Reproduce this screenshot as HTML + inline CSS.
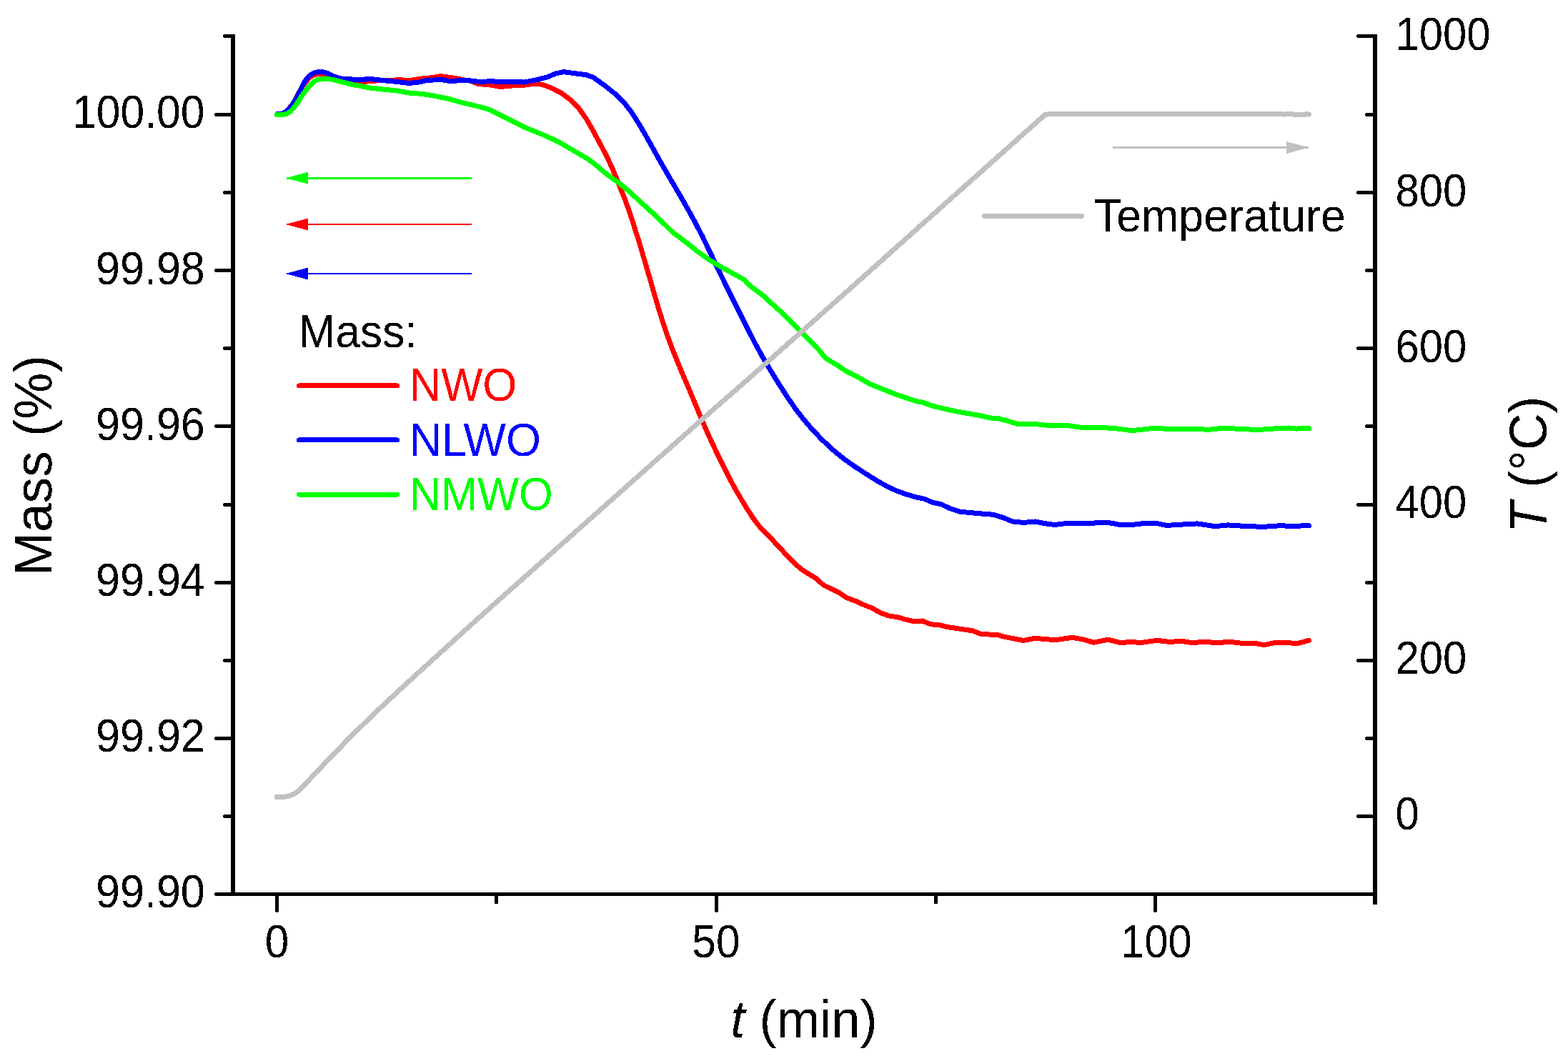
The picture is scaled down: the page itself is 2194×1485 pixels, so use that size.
<!DOCTYPE html>
<html lang="en">
<head>
<meta charset="utf-8">
<title>TGA mass and temperature versus time</title>
<style>
html,body{margin:0;padding:0;background:#fff;}
body{width:2194px;height:1485px;overflow:hidden;}
svg{display:block;}
text{font-family:"Liberation Sans",Arial,Helvetica,sans-serif;fill:#000;}
</style>
</head>
<body>
<svg width="2194" height="1485" viewBox="0 0 2194 1485">
<defs>
<filter id="crisp" filterUnits="userSpaceOnUse" x="0" y="0" width="2194" height="1485" color-interpolation-filters="sRGB">
<feComponentTransfer><feFuncA type="discrete" tableValues="0 1"/></feComponentTransfer>
</filter>
</defs>
<rect x="0" y="0" width="2194" height="1485" fill="#ffffff"/>

<g fill="none" stroke-linejoin="round" stroke-linecap="round" stroke-width="7" shape-rendering="crispEdges">
<path d="M387.5,159.7 L394.5,159.0 L399.5,156.5 L403.6,152.8 L410.4,144.5 L417.2,131.5 L424.2,119.5 L428.3,114.0 L432.6,109.3 L437.0,106.0 L442.0,104.0 L447.0,103.2 L453.0,103.3 L459.0,104.8 L466.0,107.5 L473.0,110.0 L480.0,111.8 L493.0,113.5 L509.0,114.4 L527.3,113.0 L541.0,112.6 L559.3,111.7 L572.9,112.6 L591.2,109.9 L604.8,108.7 L616.7,106.5 L627.6,108.1 L641.3,110.3 L650.4,112.2 L659.5,113.4 L668.6,117.5 L682.3,118.5 L691.4,119.8 L700.0,121.5 L720.0,119.6 L730.0,119.6 L745.0,117.6 L758.4,118.1 L772.7,123.6 L786.1,130.7 L798.3,139.8 L809.6,151.2 L820.1,166.0 L830.2,183.6 L840.0,201.8 L849.0,218.9 L856.6,235.2 L863.1,250.8 L869.0,265.4 L874.9,280.1 L880.8,297.0 L887.4,317.1 L894.6,339.8 L901.6,363.4 L908.4,386.8 L915.1,410.1 L921.8,432.8 L928.5,453.9 L935.2,473.6 L942.1,491.9 L948.8,508.5 L955.6,524.6 L963.7,543.6 L972.9,565.7 L982.3,588.3 L991.9,610.1 L1001.8,631.3 L1011.7,651.6 L1021.3,670.6 L1030.6,687.7 L1039.6,702.8 L1047.7,715.9 L1054.7,726.6 L1061.9,735.9 L1070.9,745.6 L1081.1,756.0 L1091.1,766.5 L1100.6,777.1 L1110.7,787.6 L1121.2,796.6 L1131.7,803.5 L1141.8,809.4 L1151.8,818.6 L1163.5,824.4 L1175.2,830.2 L1185.2,836.9 L1196.9,841.1 L1208.6,846.6 L1220.3,851.1 L1232.0,857.8 L1243.7,862.0 L1255.4,863.6 L1267.0,867.0 L1277.1,869.5 L1290.4,869.0 L1302.1,873.7 L1315.5,875.0 L1327.2,877.8 L1343.9,880.3 L1360.6,882.8 L1373.9,887.8 L1394.0,888.2 L1407.3,891.7 L1416.7,893.5 L1431.7,896.5 L1448.4,893.2 L1463.4,894.8 L1478.5,895.5 L1500.2,892.3 L1516.9,895.2 L1530.2,899.3 L1550.3,895.2 L1568.6,899.7 L1583.7,898.2 L1595.4,899.7 L1618.7,896.3 L1637.1,898.5 L1652.1,897.2 L1668.8,899.7 L1683.9,898.2 L1703.9,899.7 L1720.6,898.2 L1739.0,900.5 L1755.6,900.2 L1768.6,902.7 L1785.3,899.3 L1802.0,899.3 L1813.7,901.0 L1825.4,898.0 L1831.5,896.3" stroke="#ff0000"/>
<path d="M387.5,159.7 L395.0,159.0 L400.0,156.5 L404.1,152.8 L410.9,144.5 L417.5,131.5 L423.9,118.7 L427.5,112.6 L431.6,107.3 L435.4,104.0 L440.5,101.5 L445.7,100.5 L451.0,100.6 L456.2,101.8 L464.1,105.5 L470.8,108.2 L477.7,110.2 L491.2,110.8 L500.0,111.7 L518.2,110.5 L536.5,112.6 L554.7,114.4 L572.9,116.5 L586.6,114.9 L595.7,112.6 L616.7,111.4 L627.6,113.3 L655.0,112.6 L673.2,114.7 L686.9,113.5 L700.0,114.9 L720.0,114.3 L733.4,115.1 L750.0,111.8 L766.8,107.6 L776.8,103.1 L788.5,100.6 L803.5,102.6 L820.2,104.7 L830.2,108.4 L846.1,119.7 L860.5,131.2 L872.8,143.1 L883.5,156.8 L893.6,172.6 L903.7,189.9 L913.7,207.8 L923.7,225.7 L933.7,243.1 L943.7,260.3 L953.8,277.5 L963.7,295.0 L973.5,312.9 L983.0,331.2 L991.8,349.5 L1000.4,367.4 L1009.2,385.9 L1018.7,405.3 L1028.6,425.2 L1038.6,445.1 L1048.2,464.2 L1057.5,482.3 L1067.3,500.2 L1078.2,518.5 L1089.8,537.4 L1101.4,555.3 L1112.5,571.5 L1123.9,586.3 L1136.1,600.6 L1149.6,614.8 L1164.5,628.9 L1180.6,642.1 L1197.0,653.7 L1212.6,663.8 L1227.0,672.8 L1240.8,680.6 L1254.7,687.0 L1268.3,691.9 L1281.0,695.6 L1293.4,698.3 L1305.0,703.3 L1316.7,705.7 L1330.1,712.0 L1343.5,716.2 L1356.8,717.5 L1373.5,719.0 L1390.2,720.3 L1403.6,724.5 L1416.9,730.0 L1430.3,731.2 L1440.3,730.9 L1448.6,730.0 L1460.3,732.4 L1475.4,734.5 L1488.7,732.9 L1505.4,732.4 L1527.1,732.4 L1540.5,731.2 L1553.8,732.0 L1567.2,734.5 L1583.9,734.5 L1597.2,732.9 L1620.6,732.9 L1632.3,735.4 L1646.7,734.5 L1675.0,732.9 L1700.0,736.7 L1718.5,734.9 L1738.5,736.2 L1766.9,737.4 L1788.6,735.9 L1813.7,736.2 L1831.5,735.7" stroke="#0000ff"/>
<path d="M387.5,160.5 L395.2,160.4 L401.6,159.2 L406.1,156.0 L410.5,151.5 L414.4,146.4 L418.2,140.7 L422.1,134.3 L426.5,128.5 L431.0,122.7 L435.5,117.6 L440.0,113.8 L445.1,111.2 L452.8,110.4 L460.5,110.6 L468.1,111.9 L475.8,114.1 L484.8,116.3 L494.4,118.9 L500.0,119.5 L518.2,123.1 L536.5,125.1 L554.7,126.9 L572.9,130.1 L591.2,131.5 L609.4,134.5 L627.6,138.3 L645.9,143.5 L664.1,147.7 L682.3,152.5 L691.4,156.6 L701.9,162.0 L716.4,169.2 L732.0,177.1 L744.6,182.5 L756.3,187.1 L769.7,193.0 L783.4,199.6 L796.8,207.4 L810.2,215.3 L822.7,222.6 L832.6,229.9 L841.6,237.9 L852.8,246.6 L865.0,255.3 L875.5,263.6 L884.9,272.2 L894.4,281.0 L904.0,289.7 L913.6,298.5 L923.2,307.4 L932.3,316.3 L939.7,323.7 L947.8,330.0 L960.6,339.6 L976.9,352.6 L993.6,364.5 L1010.3,374.3 L1026.6,383.3 L1042.0,391.9 L1049.2,400.0 L1059.3,407.3 L1070.2,415.5 L1078.4,423.7 L1085.7,430.1 L1095.7,439.2 L1103.0,446.5 L1111.2,454.7 L1119.4,462.9 L1127.6,471.1 L1134.9,478.4 L1142.2,485.7 L1148.6,493.0 L1155.0,501.2 L1162.3,505.7 L1173.2,512.1 L1182.3,518.5 L1191.4,523.1 L1200.0,527.6 L1217.2,537.5 L1233.9,544.2 L1250.6,550.9 L1267.3,556.7 L1282.3,561.7 L1290.0,562.9 L1305.0,568.1 L1321.7,572.2 L1338.4,575.9 L1355.1,578.8 L1371.8,581.8 L1386.9,585.1 L1396.9,585.6 L1410.2,589.3 L1423.6,593.4 L1447.0,593.4 L1463.7,595.1 L1493.7,595.5 L1513.8,598.5 L1543.8,598.5 L1563.8,600.1 L1583.9,602.6 L1597.2,601.3 L1613.9,599.3 L1630.0,600.1 L1680.0,600.5 L1690.0,601.5 L1710.0,599.3 L1730.0,600.1 L1760.0,601.5 L1780.0,600.1 L1803.6,599.0 L1813.7,600.1 L1827.0,599.3 L1831.5,599.6" stroke="#00ff00"/>
<path d="M387.5,1115.5 L398.4,1115.2 L404.8,1113.9 L410.5,1111.7 L415.7,1108.5 L420.8,1104.0 L427.2,1097.6 L433.6,1090.5 L440.0,1083.5 L446.4,1077.1 L452.8,1070.1 L459.2,1063.0 L465.6,1056.6 L472.0,1050.2 L478.4,1043.8 L481.6,1040.3 L500.0,1021.8 L520.0,1002.4 L540.0,983.4 L560.0,964.9 L580.0,946.5 L600.0,928.3 L625.0,905.6 L653.1,880.0 L700.0,838.0 L799.0,750.0 L990.3,580.0 L1042.4,534.5 L1194.8,399.3 L1300.0,305.2 L1462.6,160.2 L1470.0,159.7 L1793.0,159.7 L1795.5,160.3 L1799.0,159.7 L1808.0,159.7 L1811.0,160.4 L1825.0,160.4 L1828.0,159.7 L1831.5,160.1" stroke="#c0c0c0"/>
</g>
<g fill="#000" shape-rendering="crispEdges">
<rect x="323" y="48" width="6" height="1206"/>
<rect x="1921" y="48" width="6" height="1218"/>
<rect x="301" y="1249" width="1626" height="5"/>
</g>
<g stroke="#000" fill="none" stroke-linecap="round" stroke-width="5" shape-rendering="crispEdges">
<line x1="302.5" y1="1251.5" x2="325" y2="1251.5"/>
<line x1="314.5" y1="1142.5" x2="325" y2="1142.5"/>
<line x1="302.5" y1="1033.5" x2="325" y2="1033.5"/>
<line x1="314.5" y1="924.5" x2="325" y2="924.5"/>
<line x1="302.5" y1="815.5" x2="325" y2="815.5"/>
<line x1="314.5" y1="706.5" x2="325" y2="706.5"/>
<line x1="302.5" y1="596.5" x2="325" y2="596.5"/>
<line x1="314.5" y1="487.5" x2="325" y2="487.5"/>
<line x1="302.5" y1="378.5" x2="325" y2="378.5"/>
<line x1="314.5" y1="269.5" x2="325" y2="269.5"/>
<line x1="302.5" y1="160.5" x2="325" y2="160.5"/>
<line x1="314.5" y1="50.5" x2="325" y2="50.5"/>
<line x1="1912.7" y1="1251.5" x2="1923" y2="1251.5"/>
<line x1="1900.8" y1="1142.5" x2="1923" y2="1142.5"/>
<line x1="1912.7" y1="1033.5" x2="1923" y2="1033.5"/>
<line x1="1900.8" y1="924.5" x2="1923" y2="924.5"/>
<line x1="1912.7" y1="815.5" x2="1923" y2="815.5"/>
<line x1="1900.8" y1="706.5" x2="1923" y2="706.5"/>
<line x1="1912.7" y1="596.5" x2="1923" y2="596.5"/>
<line x1="1900.8" y1="487.5" x2="1923" y2="487.5"/>
<line x1="1912.7" y1="378.5" x2="1923" y2="378.5"/>
<line x1="1900.8" y1="269.5" x2="1923" y2="269.5"/>
<line x1="1912.7" y1="160.5" x2="1923" y2="160.5"/>
<line x1="1900.8" y1="50.5" x2="1923" y2="50.5"/>
<line x1="387.5" y1="1252" x2="387.5" y2="1274.4"/>
<line x1="694.5" y1="1252" x2="694.5" y2="1263.0"/>
<line x1="1002.5" y1="1252" x2="1002.5" y2="1274.4"/>
<line x1="1309.5" y1="1252" x2="1309.5" y2="1263.0"/>
<line x1="1616.5" y1="1252" x2="1616.5" y2="1274.4"/>
</g>
<g filter="url(#crisp)">
<text transform="translate(134.11,1270.40) scale(0.9308,1)" font-size="65.55">99.90</text>
<text transform="translate(134.11,1052.20) scale(0.9308,1)" font-size="65.55">99.92</text>
<text transform="translate(134.11,834.00) scale(0.9308,1)" font-size="65.55">99.94</text>
<text transform="translate(134.11,615.80) scale(0.9308,1)" font-size="65.55">99.96</text>
<text transform="translate(134.11,397.60) scale(0.9308,1)" font-size="65.55">99.98</text>
<text transform="translate(101.18,179.40) scale(0.9244,1)" font-size="65.55">100.00</text>
<text transform="translate(1952.44,1161.30) scale(0.9128,1)" font-size="65.55">0</text>
<text transform="translate(1952.44,943.10) scale(0.9128,1)" font-size="65.55">200</text>
<text transform="translate(1952.44,724.90) scale(0.9128,1)" font-size="65.55">400</text>
<text transform="translate(1952.44,506.70) scale(0.9128,1)" font-size="65.55">600</text>
<text transform="translate(1952.44,288.50) scale(0.9128,1)" font-size="65.55">800</text>
<text transform="translate(1952.44,70.30) scale(0.9128,1)" font-size="65.55">1000</text>
<text transform="translate(387.50,1340.20) scale(0.9200,1)" font-size="65.55" text-anchor="middle">0</text>
<text transform="translate(968.37,1340.20) scale(0.9215,1)" font-size="65.55">50</text>
<text transform="translate(1568.36,1340.20) scale(0.9071,1)" font-size="65.55">100</text>
<text transform="translate(1022.30,1451.90) scale(0.9722,1)" font-size="74.60"><tspan font-style="italic">t</tspan> (min)</text>
<text transform="translate(72.30,805.98) rotate(-90) scale(0.9804,1)" font-size="74.60">Mass (%)</text>
<text transform="translate(2164.00,746.07) rotate(-90) scale(0.9588,1)" font-size="74.60"><tspan font-style="italic">T</tspan> (°C)</text>
</g>
<g shape-rendering="crispEdges"><line x1="400.5" y1="249.2" x2="659.5" y2="249.2" stroke="#00ff00" stroke-width="3" stroke-linecap="butt"/>
<polygon points="400,249.2 431,240.7 431,257.7" fill="#00ff00"/></g>
<g shape-rendering="crispEdges"><line x1="400.5" y1="314.0" x2="659.5" y2="314.0" stroke="#ff0000" stroke-width="2" stroke-linecap="butt"/>
<polygon points="400,314.0 431,305.5 431,322.5" fill="#ff0000"/></g>
<g shape-rendering="crispEdges"><line x1="400.5" y1="383.0" x2="659.5" y2="383.0" stroke="#0000ff" stroke-width="2" stroke-linecap="butt"/>
<polygon points="400,383.0 431,374.5 431,391.5" fill="#0000ff"/></g>
<g shape-rendering="crispEdges"><line x1="1556.6" y1="206.5" x2="1830.6" y2="206.5" stroke="#c0c0c0" stroke-width="3" stroke-linecap="butt"/>
<polygon points="1831.2,206.5 1800,198 1800,215" fill="#c0c0c0"/></g>
<g filter="url(#crisp)">
<text transform="translate(417.58,486.10) scale(0.9495,1)" font-size="65.55">Mass:</text>
<line x1="418.4" y1="539.9" x2="555.6" y2="539.9" stroke="#ff0000" stroke-width="7" stroke-linecap="round" shape-rendering="crispEdges"/>
<text transform="translate(572.63,561.40) scale(0.9406,1)" font-size="65.55" style="fill:#ff0000">NWO</text>
<line x1="418.4" y1="615.9" x2="555.6" y2="615.9" stroke="#0000ff" stroke-width="7" stroke-linecap="round" shape-rendering="crispEdges"/>
<text transform="translate(572.51,637.80) scale(0.9615,1)" font-size="65.55" style="fill:#0000ff">NLWO</text>
<line x1="418.4" y1="692.0" x2="555.6" y2="692.0" stroke="#00ff00" stroke-width="7" stroke-linecap="round" shape-rendering="crispEdges"/>
<text transform="translate(572.65,713.90) scale(0.9367,1)" font-size="65.55" style="fill:#00ff00">NMWO</text>
<line x1="1377.7" y1="302.3" x2="1513.6" y2="302.3" stroke="#c0c0c0" stroke-width="7" stroke-linecap="round" shape-rendering="crispEdges"/>
<text transform="translate(1530.86,324.00) scale(0.9568,1)" font-size="65.55">Temperature</text>
</g>
</svg>
</body>
</html>
